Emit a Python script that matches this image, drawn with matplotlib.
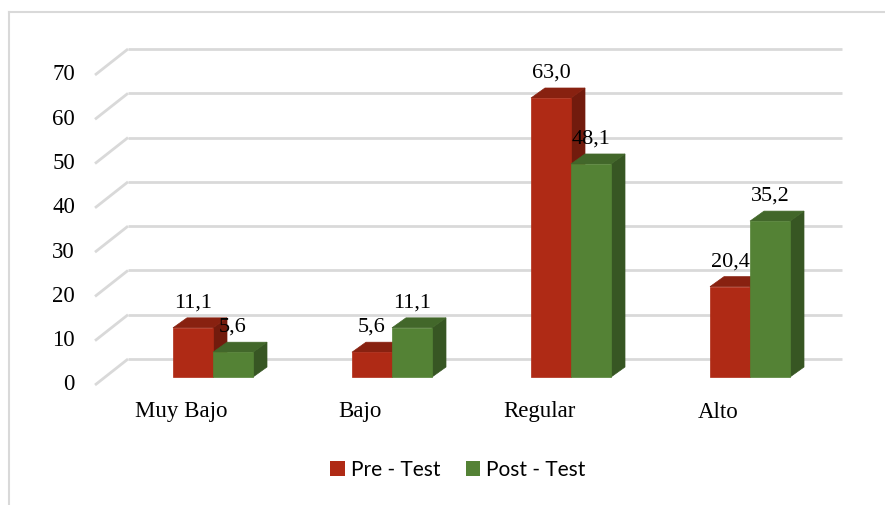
import matplotlib
matplotlib.use("Agg")
import matplotlib.pyplot as plt
from matplotlib.patches import Polygon, Patch
from matplotlib.lines import Line2D

# Data
categories = ["Muy Bajo", "Bajo", "Regular", "Alto"]
pre_test = [11.1, 5.6, 63.0, 20.4]
post_test = [5.6, 11.1, 48.1, 35.2]
series_names = ["Pre - Test", "Post - Test"]
y_ticks = [0, 10, 20, 30, 40, 50, 60, 70]

# Face colours: front, top, side
red_faces = ("#AF2A15", "#882110", "#721B0D")
green_faces = ("#548235", "#42672A", "#375623")

W, H, DPI = 885, 505, 100
fig = plt.figure(figsize=(W / DPI, H / DPI), dpi=DPI)

# Axes is the front plane of the columns (pixel geometry of the layout)
px_cat = 179.0          # pixels per category
px_unit = 310.0 / 70.0  # pixels per value unit
ax_left_px, ax_base_px = 123.5, 377.0
ax = fig.add_axes([ax_left_px / W, (H - ax_base_px) / H,
                   4 * px_cat / W, 70 * px_unit / H])
ax.set_xlim(-0.5, 3.5)
ax.set_ylim(0, 70)
ax.axis("off")


def off(dx_px, dy_px):
    """Pixel offset (image orientation) -> data offset."""
    return dx_px / px_cat, -dy_px / px_unit


bar_w = 40.0 / px_cat
depth_dx, depth_dy = off(14, -10)
back_dx, back_dy = off(23, -18)
front_dx, front_dy = off(-10, 8)
wall_l = (105 - ax_left_px) / px_cat - 0.5
wall_r = (819 - ax_left_px) / px_cat - 0.5

grid_color = "#D9D9D9"
for v in y_ticks:
    ax.plot([wall_l + back_dx, wall_r + back_dx], [v + back_dy, v + back_dy],
            color=grid_color, lw=2, clip_on=False, zorder=1,
            solid_capstyle="butt")
    ax.plot([wall_l + front_dx, wall_l + back_dx], [v + front_dy, v + back_dy],
            color=grid_color, lw=2, clip_on=False, zorder=1,
            solid_capstyle="butt")
    ax.text(wall_l + front_dx - 20 / px_cat, v + front_dy, f"{v}",
            ha="right", va="center", fontsize=16.5,
            family="Liberation Serif", color="black")


def draw_column(xc, v, faces, z):
    x0, x1 = xc - bar_w / 2, xc + bar_w / 2
    front, top, side = faces
    side_poly = Polygon([(x1, 0), (x1, v), (x1 + depth_dx, v + depth_dy),
                         (x1 + depth_dx, depth_dy)], closed=True,
                        facecolor=side, edgecolor=side, lw=0.5,
                        clip_on=False, zorder=z)
    top_poly = Polygon([(x0, v), (x1, v), (x1 + depth_dx, v + depth_dy),
                        (x0 + depth_dx, v + depth_dy)], closed=True,
                       facecolor=top, edgecolor=top, lw=0.5,
                       clip_on=False, zorder=z)
    ax.add_patch(side_poly)
    ax.add_patch(top_poly)
    ax.bar(xc, v, width=bar_w, color=front, edgecolor=front, lw=0.5,
           zorder=z + 0.1, clip_on=False)
    ax.text(xc, v + 25 / px_unit, f"{v:.1f}".replace(".", ","),
            ha="center", va="center", fontsize=16,
            family="Liberation Serif", color="black", zorder=10)


for i in range(len(categories)):
    draw_column(i - bar_w / 2, pre_test[i], red_faces, 3 + i)
    draw_column(i + bar_w / 2, post_test[i], green_faces, 3.5 + i)
    ax.text(i - 32 / px_cat, -35 / px_unit, categories[i],
            ha="center", va="center", fontsize=16.5,
            family="Liberation Serif", color="black")

# Chart border (top and left edges visible)
fig.add_artist(Line2D([9 / W, 9 / W], [0, (H - 12) / H], color=grid_color,
                      lw=1.5, transform=fig.transFigure))
fig.add_artist(Line2D([9 / W, 1], [(H - 12) / H, (H - 12) / H],
                      color=grid_color, lw=1.5, transform=fig.transFigure))

handles = [Patch(facecolor=red_faces[0], edgecolor="none"),
           Patch(facecolor=green_faces[0], edgecolor="none")]
fig.legend(handles, series_names, loc="center",
           bbox_to_anchor=(458 / W, (H - 470) / H), ncol=2, frameon=False,
           prop={"family": "Lato", "size": 15}, handlelength=0.7,
           handleheight=0.7, handletextpad=0.3, columnspacing=1.2)

fig.savefig("out.png", dpi=DPI)
